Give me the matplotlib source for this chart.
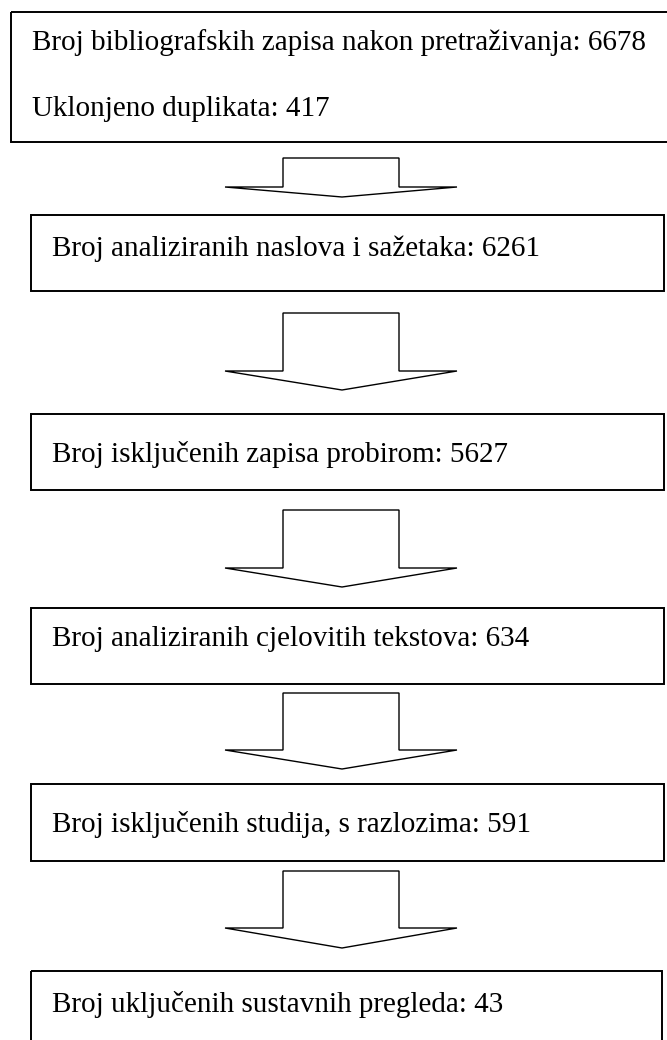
import matplotlib
matplotlib.use("Agg")
import matplotlib.pyplot as plt
from matplotlib.patches import Rectangle, Polygon

# flow stages (label, count)
stages = ["Broj bibliografskih zapisa nakon pretraživanja",
          "Broj analiziranih naslova i sažetaka",
          "Broj isključenih zapisa probirom",
          "Broj analiziranih cjelovitih tekstova",
          "Broj isključenih studija, s razlozima",
          "Broj uključenih sustavnih pregleda"]
counts = [6678, 6261, 5627, 634, 591, 43]
dup_label = "Uklonjeno duplikata"
dup_count = 417

# layout in pixels (y downwards)
box_top = [12, 215, 414, 608, 784, 971]
box_bot = [142, 291, 490, 684, 861, 1046]
box_left = [11, 31, 31, 31, 31, 31]
box_right = [670, 664, 664, 664, 664, 662]
text_y = [40, 247, 452, 637, 822, 1003]
text_x = [32, 52, 52, 52, 52, 52]
arr_top = [158, 313, 510, 693, 871]
arr_sh = [187, 371, 568, 750, 928]
arr_tip = [197, 390, 587, 769, 948]

fig = plt.figure(figsize=(6.67, 10.4), dpi=100)
ax = fig.add_axes([0, 0, 1, 1])
ax.set_xlim(0, 667)
ax.set_ylim(1040, 0)
ax.axis("off")

fnt = dict(family="Liberation Serif", size=21, color="black")

for i in range(len(stages)):
    ax.add_patch(Rectangle((box_left[i], box_top[i]), box_right[i]-box_left[i],
                           box_bot[i]-box_top[i], fill=False, ec="black", lw=1.4))
    ax.text(text_x[i], text_y[i]+9.5, stages[i]+": "+str(counts[i]), va="baseline", ha="left", **fnt)

ax.text(text_x[0], 107+9.5, dup_label+": "+str(dup_count), va="baseline", ha="left", **fnt)

for i in range(len(arr_top)):
    pts = [(283, arr_top[i]), (399, arr_top[i]), (399, arr_sh[i]), (457, arr_sh[i]),
           (342, arr_tip[i]), (225, arr_sh[i]), (283, arr_sh[i])]
    ax.add_patch(Polygon(pts, closed=True, fc="white", ec="black", lw=1.0))

fig.savefig("out.png", dpi=100)
